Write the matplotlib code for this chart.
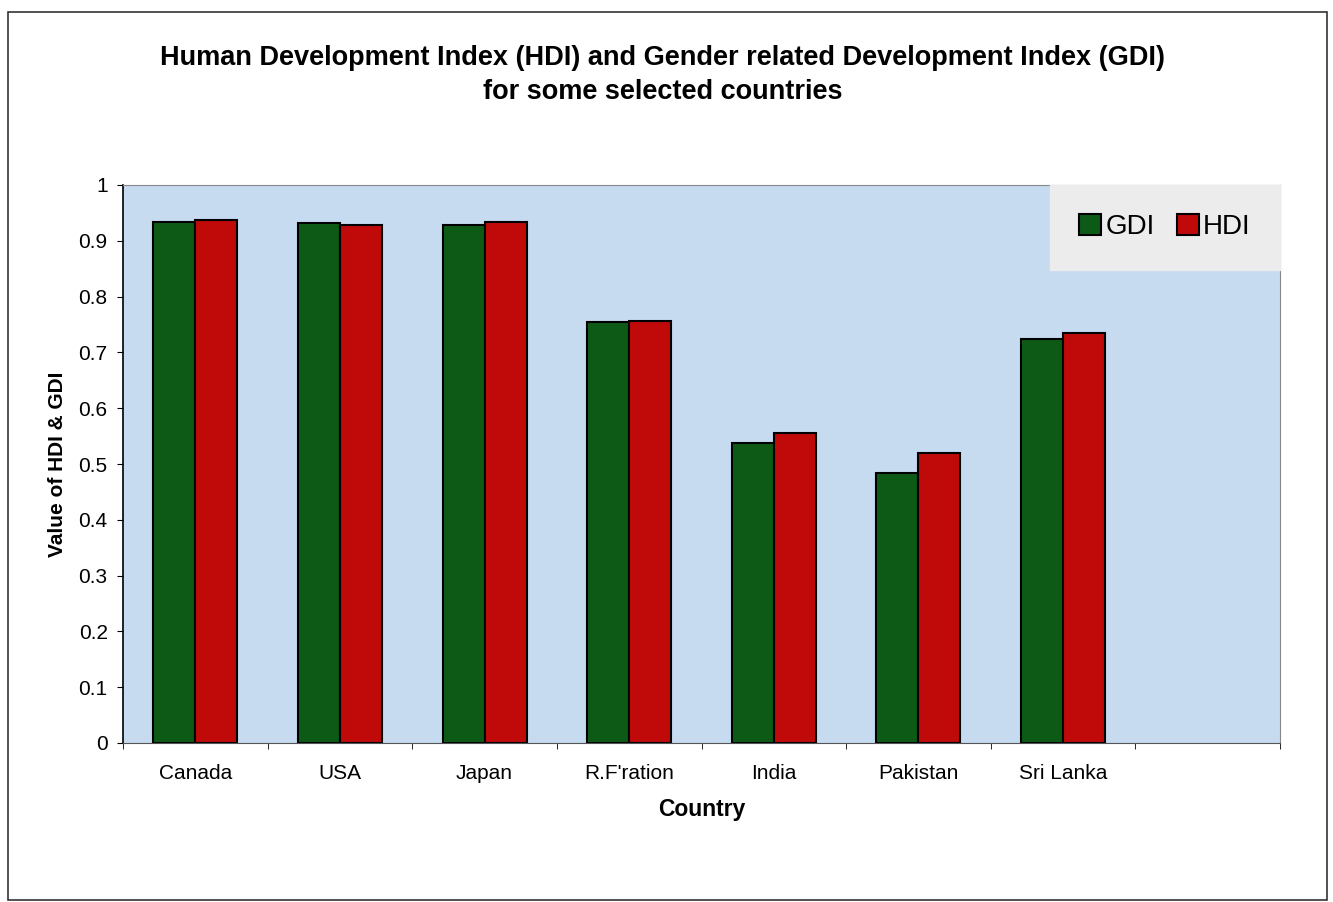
import numpy as np
import matplotlib.pyplot as plt
from matplotlib.patches import Rectangle

plt.rcParams['font.family'] = ['Liberation Sans', 'DejaVu Sans']

# Datos
countries = ['Canada', 'USA', 'Japan', "R.F'ration", 'India', 'Pakistan', 'Sri Lanka']
gdi = [0.934, 0.932, 0.928, 0.754, 0.538, 0.484, 0.724]
hdi = [0.937, 0.928, 0.934, 0.756, 0.556, 0.520, 0.735]

green = '#0d5a17'
red = '#c00a0a'

fig = plt.figure(figsize=(13.33, 9.02), dpi=100)
ax = fig.add_axes([123/1333, 1 - 743/902, (1280-123)/1333, (743-185)/902])
ax.set_facecolor('#c6daf0')

x = np.arange(len(countries))
w = 0.29
ax.bar(x - w/2, gdi, w, color=green, edgecolor='black', linewidth=1.5, label='GDI')
ax.bar(x + w/2, hdi, w, color=red, edgecolor='black', linewidth=1.5, label='HDI')

ax.set_xlim(-0.5, 7.5)
ax.set_ylim(0, 1)
ax.set_yticks(np.arange(0, 1.01, 0.1))
ax.set_yticklabels(['0'] + ['%.1f' % v for v in np.arange(0.1, 0.95, 0.1)] + ['1'], fontsize=15)
ax.set_xticks(x)
ax.set_xticklabels(countries, fontsize=15)
ax.set_xticks(np.arange(-0.5, 7.6, 1), minor=True)
ax.tick_params(axis='x', which='major', length=0, pad=15)
ax.tick_params(axis='x', which='minor', length=4, direction='out')
ax.tick_params(axis='y', length=4, direction='out', pad=7)

for s in ['top', 'right']:
    ax.spines[s].set_color('#888888')
    ax.spines[s].set_linewidth(0.8)
ax.spines['left'].set_linewidth(1.2)
ax.spines['bottom'].set_color('#555555')

ax.set_xlabel('Country', fontsize=16.5, fontweight='bold', labelpad=11)
ax.set_ylabel('Value of HDI & GDI', fontsize=15, fontweight='bold', labelpad=8)

leg = ax.legend(loc='upper right', ncol=2, fontsize=20, frameon=True, fancybox=False,
                handlelength=0.8, handleheight=0.8, handletextpad=0.15, columnspacing=0.8,
                borderpad=1.05, borderaxespad=0.0)
leg.get_frame().set_facecolor('#ececec')
leg.get_frame().set_edgecolor('#ececec')
leg.get_frame().set_alpha(1)

fig.text(0.497, 1 - 58/902, 'Human Development Index (HDI) and Gender related Development Index (GDI)',
         ha='center', va='center', fontsize=19.5, fontweight='bold')
fig.text(0.497, 1 - 92/902, 'for some selected countries',
         ha='center', va='center', fontsize=19.5, fontweight='bold')

fig.patches.append(Rectangle((8/1333, 2/902), 1319/1333, 888/902, transform=fig.transFigure,
                             fill=False, edgecolor='#333333', linewidth=1.2))

fig.savefig('out.png', dpi=100)
